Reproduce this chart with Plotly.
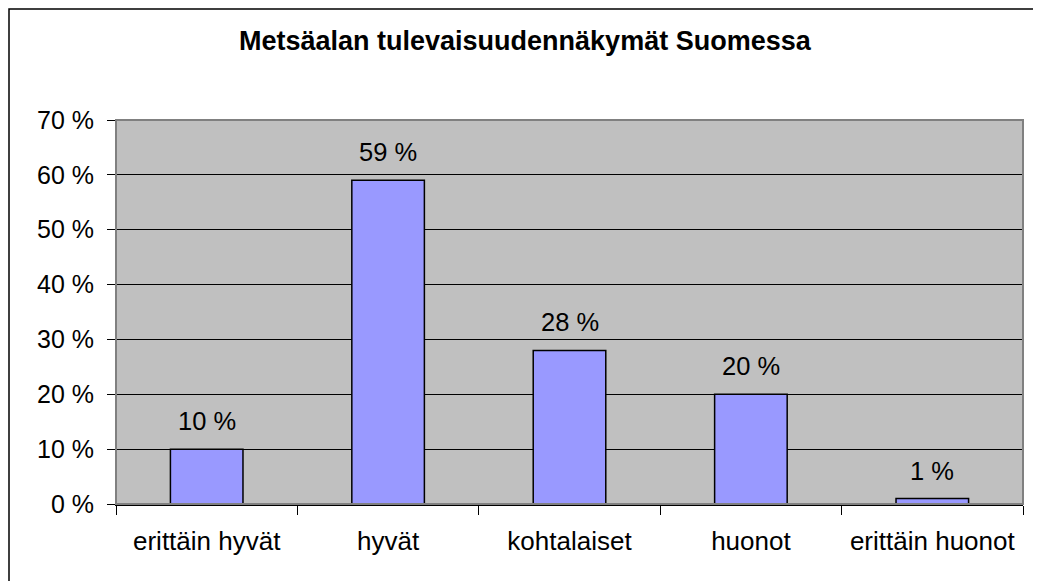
import plotly.graph_objects as go

categories = ["erittäin hyvät", "hyvät", "kohtalaiset", "huonot", "erittäin huonot"]
values = [10, 59, 28, 20, 1]
label_texts = ["10 %", "59 %", "28 %", "20 %", "1 %"]
tick_values = [0, 10, 20, 30, 40, 50, 60, 70]
tick_labels = ["0 %", "10 %", "20 %", "30 %", "40 %", "50 %", "60 %", "70 %"]
title_text = "Metsäalan tulevaisuudennäkymät Suomessa"

FONT = "Liberation Sans, Arial, sans-serif"

fig = go.Figure()
fig.add_trace(go.Bar(
    x=categories, y=values,
    marker=dict(color="#9999FF", line=dict(color="black", width=1.5)),
    hoverinfo="skip",
))

annotations = []
for c, v, t in zip(categories, values, label_texts):
    annotations.append(dict(x=c, y=v, xref="x", yref="y", text=t, showarrow=False,
                            yanchor="middle", yshift=28,
                            font=dict(family=FONT, size=25.5, color="black")))
annotations.append(dict(x=0.452, y=1.207, xref="paper", yref="paper", text="<b>" + title_text + "</b>",
                        showarrow=False, xanchor="center", yanchor="middle",
                        font=dict(family=FONT, size=27, color="black")))

fig.update_layout(
    width=1033, height=573,
    margin=dict(l=108, r=18, t=112, b=77),
    paper_bgcolor="white",
    plot_bgcolor="#C0C0C0",
    showlegend=False,
    bargap=0.6,
    annotations=annotations,
    font=dict(family=FONT, size=25, color="black"),
    shapes=[
        dict(type="rect", xref="paper", yref="paper", x0=0, x1=1, y0=0, y1=1,
             line=dict(color="#808080", width=2), fillcolor="rgba(0,0,0,0)", layer="above"),
        dict(type="rect", xref="paper", yref="paper", x0=-107 / 907, x1=1.05,
             y0=-0.3, y1=1 + 111 / 384,
             line=dict(color="black", width=1.5), fillcolor="rgba(0,0,0,0)"),
    ],
)
fig.update_xaxes(
    type="category", tickson="boundaries", ticks="outside", ticklen=9, tickcolor="black",
    tickwidth=1, showline=True, linecolor="black", linewidth=1.5, showgrid=False,
    ticklabelstandoff=13, tickfont=dict(family=FONT, size=26, color="black"),
)
fig.update_yaxes(
    range=[0, 70], tickvals=tick_values, ticktext=tick_labels, ticks="outside", ticklen=8,
    tickcolor="black", showline=True, linecolor="#404040", linewidth=1,
    showgrid=True, gridcolor="black", gridwidth=1, zeroline=False,
    ticklabelstandoff=8, tickfont=dict(family=FONT, size=25, color="black"),
)
fig.write_html("out.html")
